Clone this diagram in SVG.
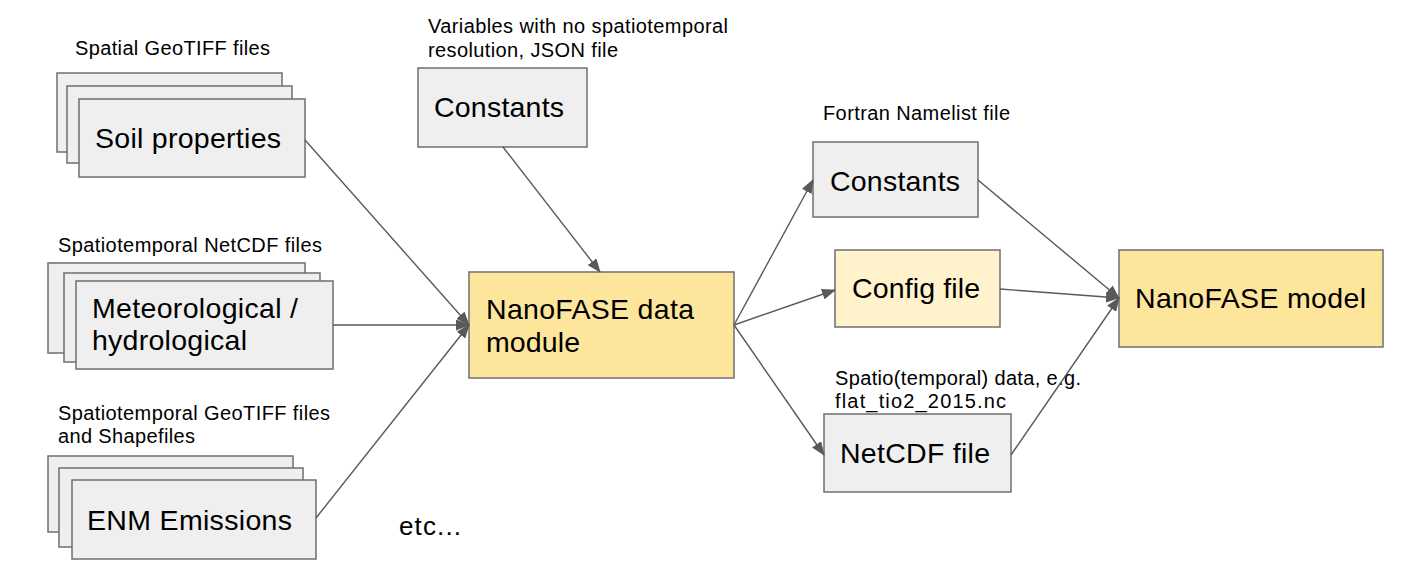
<svg xmlns="http://www.w3.org/2000/svg" width="1407" height="582" viewBox="0 0 1407 582">
<defs>
<marker id="ah" viewBox="0 0 14 11" refX="13" refY="5.5" markerWidth="14" markerHeight="11" markerUnits="userSpaceOnUse" orient="auto">
<path d="M0,0 L14,5.5 L0,11 Z" fill="#595959"/>
</marker>
<style>
.box{fill:#efefef;stroke:#6f6f6f;stroke-width:1.5}
.gold{fill:#fee59c;stroke:#6f6f6f;stroke-width:1.5}
.cream{fill:#fff2cc;stroke:#6f6f6f;stroke-width:1.5}
.big{font-family:"Liberation Sans",Arial,sans-serif;font-size:28.5px;fill:#000}
.small{font-family:"Liberation Sans",Arial,sans-serif;font-size:20px;fill:#000}
.conn line{stroke:#595959;stroke-width:1.4;marker-end:url(#ah)}
</style>
</defs>
<rect width="1407" height="582" fill="#fff"/>
<g id="soil">
<text class="small" x="75" y="55" textLength="195">Spatial GeoTIFF files</text>
<rect class="box" x="57" y="73" width="225" height="79"/>
<rect class="box" x="67" y="86" width="225" height="77"/>
<rect class="box" x="79" y="99" width="226" height="78"/>
<text class="big" x="95" y="148" textLength="186">Soil properties</text>
</g>
<g id="meteo">
<text class="small" x="58" y="252" textLength="264">Spatiotemporal NetCDF files</text>
<rect class="box" x="48" y="263" width="257" height="90"/>
<rect class="box" x="64" y="273" width="256" height="89"/>
<rect class="box" x="76" y="281" width="257" height="88"/>
<text class="big" x="92" y="318" textLength="206">Meteorological /</text>
<text class="big" x="92" y="350" textLength="155">hydrological</text>
</g>
<g id="enm">
<text class="small" x="58" y="420" textLength="272">Spatiotemporal GeoTIFF files</text>
<text class="small" x="58" y="443" textLength="137">and Shapefiles</text>
<rect class="box" x="48" y="456" width="245" height="76"/>
<rect class="box" x="59" y="468" width="244" height="79"/>
<rect class="box" x="72" y="480" width="244" height="79"/>
<text class="big" x="87" y="530" textLength="205">ENM Emissions</text>
</g>
<g id="etc">
<text class="big" x="399" y="535" style="font-size:26px" textLength="62">etc...</text>
</g>
<g id="constants-in">
<text class="small" x="428" y="33" textLength="300">Variables with no spatiotemporal</text>
<text class="small" x="428" y="57" textLength="190">resolution, JSON file</text>
<rect class="box" x="418" y="68" width="169" height="79"/>
<text class="big" x="434" y="117" textLength="130">Constants</text>
</g>
<g id="datamodule">
<rect class="gold" x="469" y="272" width="265" height="106"/>
<text class="big" x="486" y="319" textLength="208">NanoFASE data</text>
<text class="big" x="486" y="352" textLength="94">module</text>
</g>
<g id="constants-out">
<text class="small" x="823" y="120" textLength="187">Fortran Namelist file</text>
<rect class="box" x="813" y="142" width="165" height="75"/>
<text class="big" x="830" y="191" textLength="130">Constants</text>
</g>
<g id="config">
<rect class="cream" x="835" y="250" width="165" height="77"/>
<text class="big" x="852" y="298" textLength="128">Config file</text>
</g>
<g id="netcdf">
<text class="small" x="835" y="385" textLength="246">Spatio(temporal) data, e.g.</text>
<text class="small" x="835" y="408" textLength="171">flat_tio2_2015.nc</text>
<rect class="box" x="824" y="414" width="187" height="78"/>
<text class="big" x="840" y="463" textLength="150">NetCDF file</text>
</g>
<g id="model">
<rect class="gold" x="1119" y="250" width="264" height="97"/>
<text class="big" x="1135" y="308" textLength="231">NanoFASE model</text>
</g>
<g id="connectors" class="conn">
<line x1="305" y1="140" x2="469" y2="325"/>
<line x1="333" y1="325" x2="469" y2="325"/>
<line x1="316" y1="518" x2="469" y2="325"/>
<line x1="503" y1="147" x2="600" y2="272"/>
<line x1="734" y1="325" x2="813" y2="180"/>
<line x1="734" y1="325" x2="835" y2="290"/>
<line x1="734" y1="325" x2="824" y2="455"/>
<line x1="978" y1="180" x2="1119" y2="298"/>
<line x1="1000" y1="289" x2="1119" y2="298"/>
<line x1="1011" y1="455" x2="1119" y2="298"/>
</g>
</svg>
